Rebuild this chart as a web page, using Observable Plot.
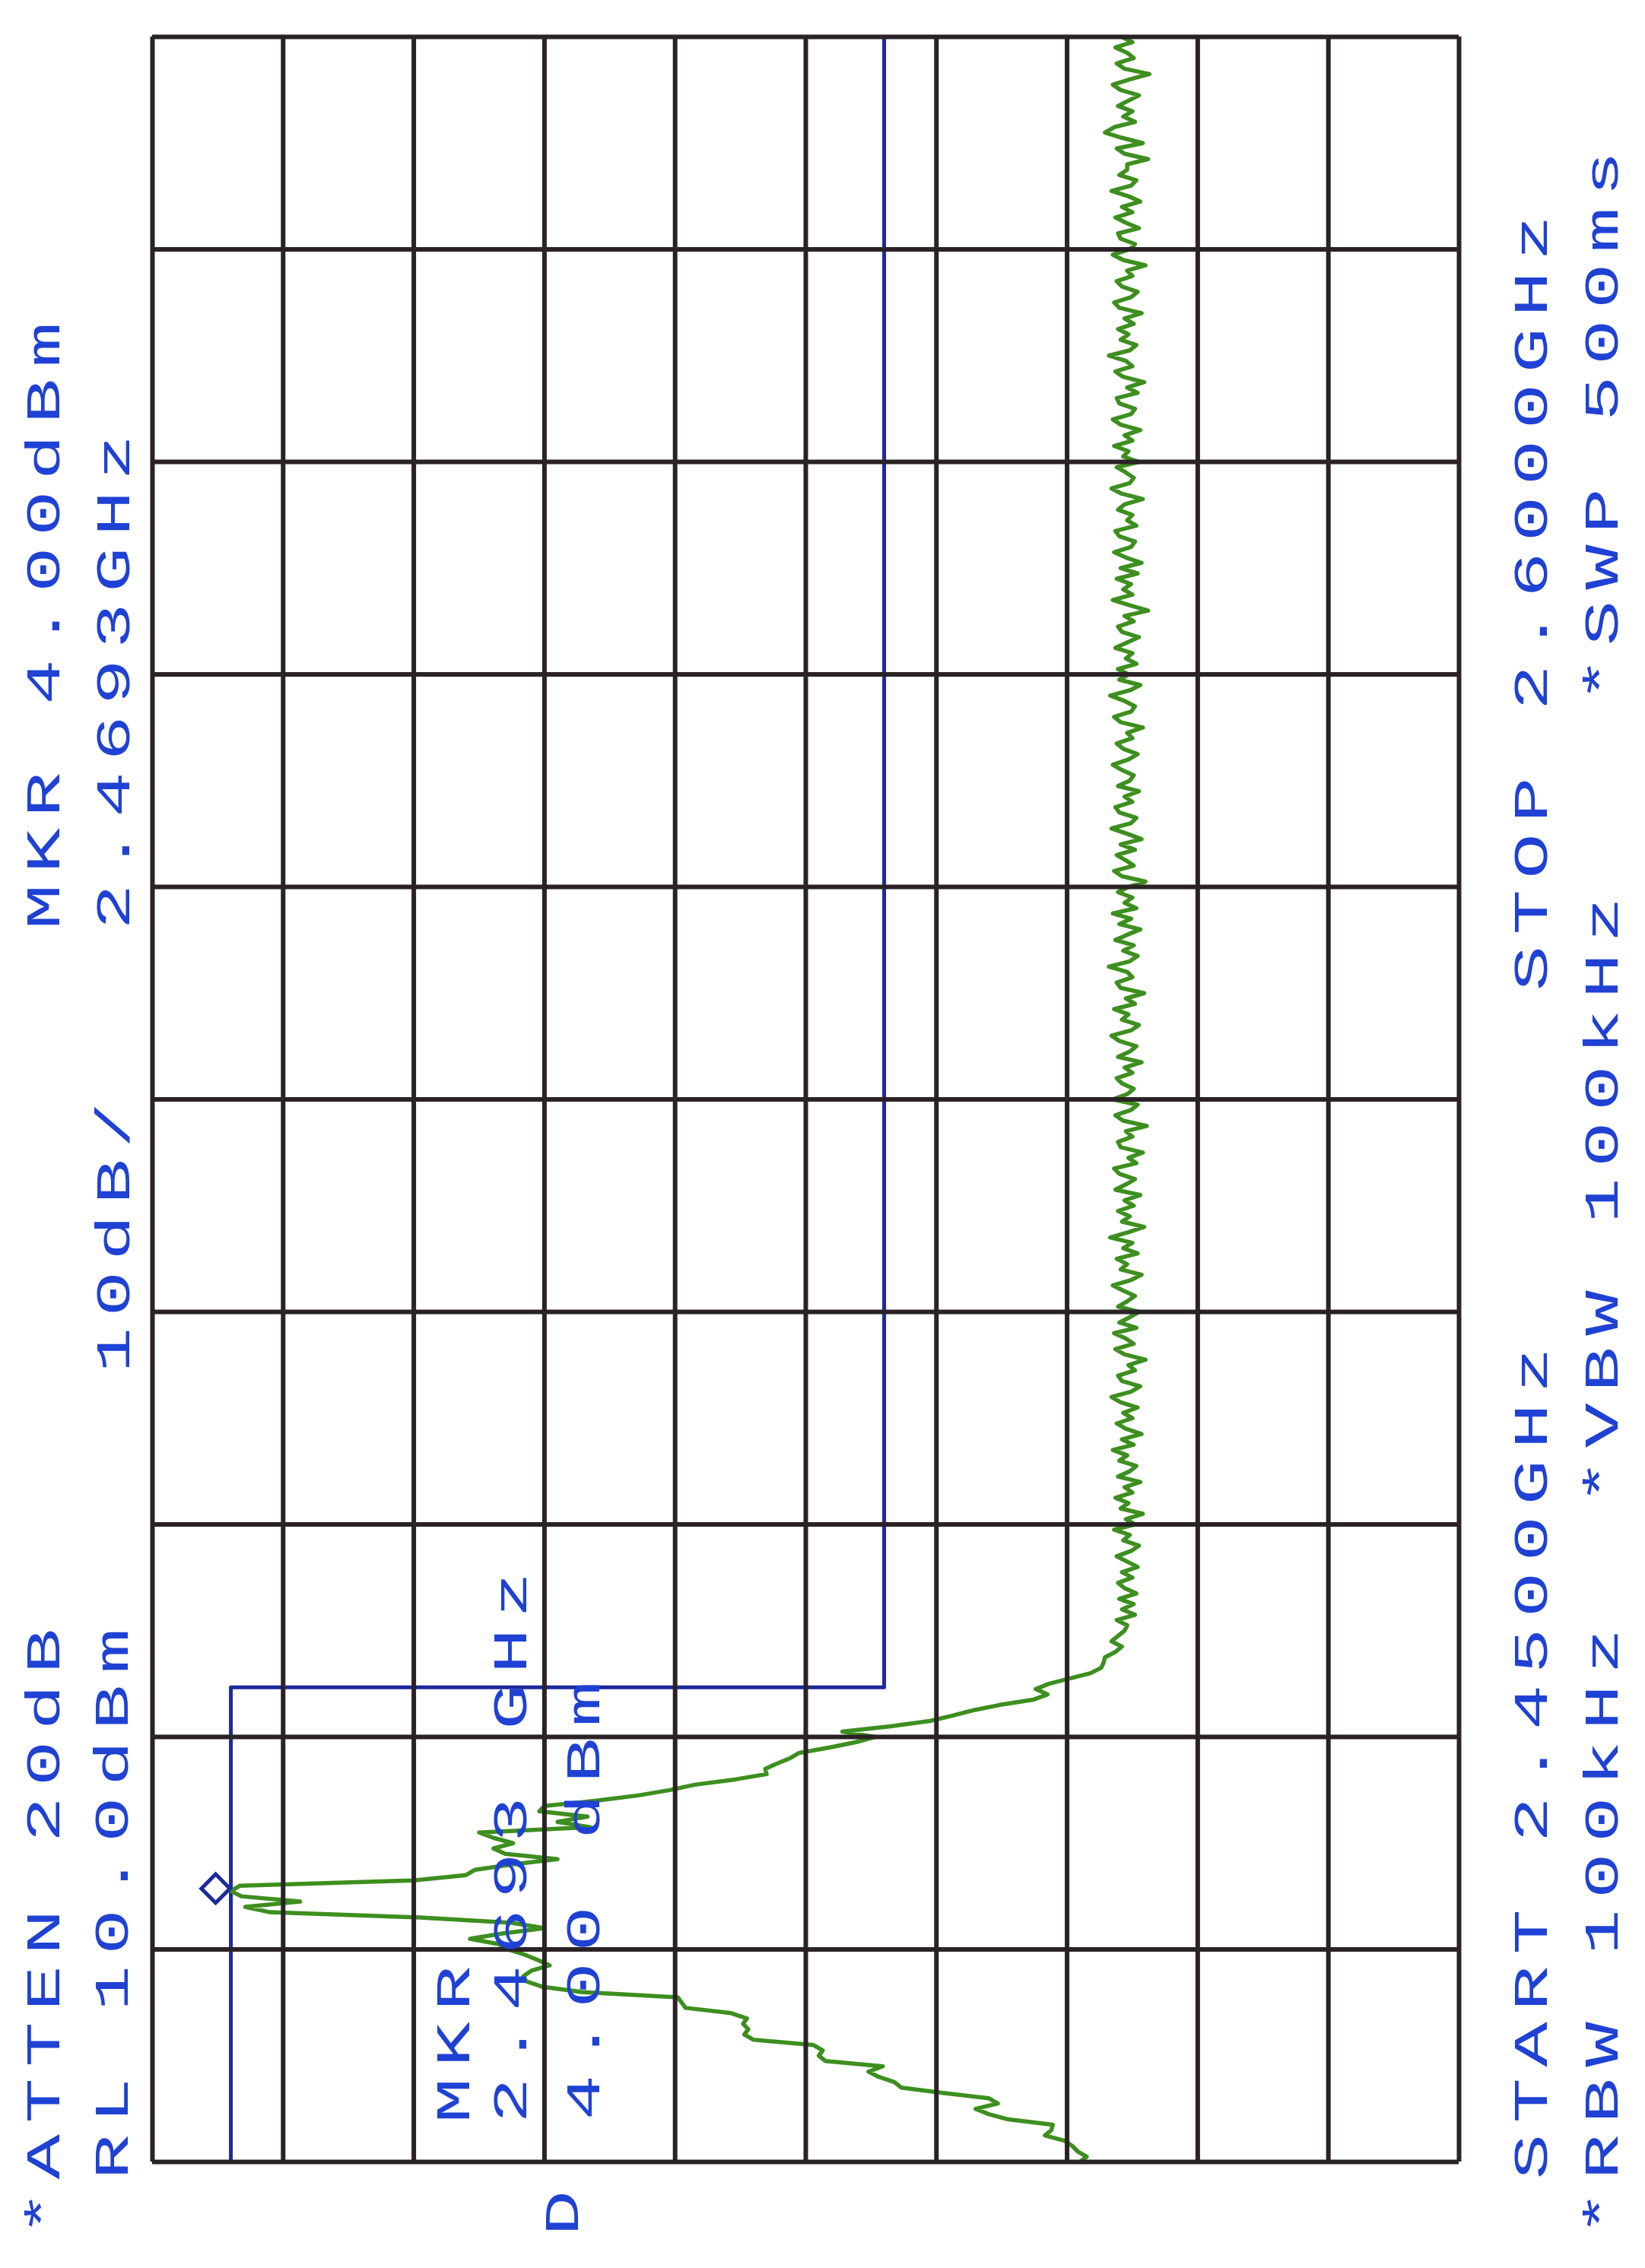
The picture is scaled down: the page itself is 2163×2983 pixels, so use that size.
<!DOCTYPE html>
<html>
<head>
<meta charset="utf-8">
<script src="https://cdn.jsdelivr.net/npm/d3@7"></script>
<script src="https://cdn.jsdelivr.net/npm/@observablehq/plot@0.6"></script>
<style>
  html, body { margin: 0; padding: 0; background: #ffffff; }
  #chart svg text { letter-spacing: 9px; }
</style>
</head>
<body>
<div id="chart"></div>
<script>
// ---------------- DATA ----------------
const startGHz = 2.45;
const stopGHz = 2.60;
const sweepPoints = 401;

// grid divisions (10 dB/div, 15 MHz/div)
const ampGridDbm = [10, 0, -10, -20, -30, -40, -50, -60, -70, -80, -90];
const freqGridGHz = [2.45, 2.465, 2.48, 2.495, 2.51, 2.525, 2.54, 2.555, 2.57, 2.585, 2.60];

// trace points 0..104 : lower skirt, carrier, upper skirt (dBm)
const signalDbm = [
  -61.0, -61.5, -60.8, -60.4, -59.8, -58.3, -58.8, -58.9, -55.5, -54.0,
  -53.0, -54.7, -54.0, -50.5, -47.3, -46.8, -45.6, -44.8, -45.9, -41.5,
  -41.0, -41.3, -40.6, -36.0, -35.3, -35.6, -35.2, -35.5, -34.3, -30.8,
  -30.5, -30.2, -22.8, -19.8, -18.6, -18.4, -19.0, -20.4, -19.5, -18.5,
  -17.2, -16.5, -14.3, -16.8, -20.0, -17.5, -10.5, 1.0, 2.9, -1.3,
  3.2, 4.0, 3.3, -10.0, -14.0, -14.7, -17.5, -21.0, -17.0, -16.1,
  -17.6, -16.1, -15.0, -23.5, -21.0, -23.3, -19.6, -20.0, -24.0, -27.2,
  -29.6, -31.5, -34.6, -37.0, -36.9, -37.8, -38.8, -39.5, -41.8, -43.8,
  -45.3, -42.8, -46.5, -49.5, -51.2, -52.8, -54.8, -57.4, -58.5, -57.6,
  -58.6, -60.2, -61.8, -62.6, -62.8, -62.9, -63.7, -64.2, -63.4, -63.9,
  -64.4, -64.6, -63.8, -65.2, -64.2
];

// trace points 105..400 : noise floor (dBm)
const noiseDbm = [
  -65.1, -64.0, -65.3, -64.4, -63.9, -65.0, -64.2, -65.4, -64.6, -63.8, -64.9, -65.5, -64.3, -64.8, -63.6, -65.2, -64.5, -65.8, -64.1, -64.7,
  -63.7, -65.0, -64.4, -65.6, -63.9, -64.8, -65.3, -64.0, -64.6, -63.5, -65.1, -64.2, -65.7, -64.5, -63.8, -65.0, -64.3, -65.4, -64.1, -63.4,
  -64.9, -65.6, -64.2, -63.9, -65.2, -64.7, -66.0, -64.4, -63.7, -65.1, -64.5, -63.6, -65.3, -64.0, -64.8, -65.5, -63.9, -64.6, -65.2, -64.3,
  -63.5, -64.9, -65.7, -64.1, -64.6, -63.8, -65.4, -64.3, -65.0, -63.3, -64.7, -65.9, -64.2, -64.8, -63.9, -65.1, -64.4, -65.6, -63.7, -64.5,
  -65.2, -64.0, -63.6, -65.3, -64.7, -65.8, -64.1, -63.9, -65.0, -64.5, -66.1, -64.3, -63.7, -64.9, -65.4, -63.5, -64.6, -65.1, -64.2, -63.8,
  -65.0, -64.4, -65.7, -63.9, -64.8, -65.3, -64.0, -63.4, -64.9, -65.5, -64.2, -64.7, -63.6, -65.2, -64.5, -65.9, -64.1, -63.8, -65.0, -64.6,
  -63.2, -64.8, -65.4, -64.3, -65.1, -63.7, -64.6, -65.6, -64.0, -64.9, -63.5, -65.3, -64.4, -65.0, -63.9, -64.7, -66.0, -64.2, -63.6, -65.1,
  -64.5, -63.8, -65.2, -64.1, -65.7, -64.6, -63.4, -64.9, -65.3, -64.0, -63.7, -65.0, -64.4, -65.5, -63.9, -64.8, -65.1, -64.2, -63.5, -64.7,
  -65.4, -64.3, -63.8, -65.0, -64.6, -65.8, -64.1, -63.6, -64.9, -65.2, -64.4, -63.3, -64.8, -65.6, -64.0, -64.7, -63.9, -65.3, -64.5, -65.0,
  -63.7, -64.6, -65.5, -64.2, -63.9, -65.1, -64.4, -66.2, -64.8, -63.5, -65.0, -64.3, -64.9, -63.8, -65.4, -64.1, -65.7, -64.5, -63.6, -64.9,
  -65.2, -64.0, -63.7, -65.3, -64.6, -65.0, -63.9, -64.4, -65.8, -64.2, -63.4, -64.8, -65.1, -64.5, -63.8, -65.5, -64.3, -64.7, -63.6, -65.0,
  -64.4, -65.6, -64.1, -63.5, -64.9, -65.2, -64.0, -63.8, -65.4, -64.6, -65.9, -64.3, -63.7, -65.0, -64.5, -63.2, -64.8, -65.3, -64.1, -64.7,
  -63.9, -65.1, -64.4, -65.7, -64.0, -63.6, -64.9, -65.4, -64.2, -63.8, -65.0, -64.6, -66.0, -64.3, -63.5, -64.8, -65.2, -64.1, -63.9, -65.5,
  -64.5, -63.7, -65.0, -64.2, -65.6, -64.7, -63.4, -64.9, -65.3, -64.0, -64.6, -64.6, -66.2, -64.4, -63.8, -65.8, -64.2, -62.9, -63.6, -65.2,
  -64.3, -65.0, -63.9, -64.7, -65.5, -64.1, -63.5, -64.8, -66.3, -64.4, -63.8, -65.1, -64.6, -63.7, -65.0, -64.2
];

// limit / display line
const limitFreqGHz = [2.45, 2.4835, 2.4835, 2.60];
const limitDbm = [4, 4, -46, -46];

// marker
const markerFreqGHz = 2.4693;
const markerDbm = 4.00;

// annotation texts
const annotationTexts = [
  "*ATTEN 20dB", "MKR 4.00dBm",
  "RL 10.0dBm", "10dB/", "2.4693GHz",
  "START 2.4500GHz", "STOP 2.6000GHz",
  "*RBW 100kHz", "*VBW 100kHz", "*SWP 500ms",
  "MKR", "2.4693 GHz", "4.00 dBm", "D"
];

// ---------------- LAYOUT ----------------
const W = 2163, H = 2983;
const M = {left: 200, right: 245, top: 48, bottom: 140};
// [column centre x, start y] in page pixels for each annotation
const textLayout = [
  [58, 2940], [58, 1222],
  [148, 2866], [150, 1805], [150, 1222],
  [2014, 2866], [2014, 1303],
  [2107, 2940], [2107, 1978], [2107, 923],
  [597, 2792], [672, 2792], [768, 2788], [740, 2940]
];

const gridColor = "#2a2226";
const traceColor = "#3d8f1f";
const lineColor = "#1c2a9a";
const textColor = "#1f42d4";

const allDbm = signalDbm.concat(noiseDbm);
const step = (stopGHz - startGHz) / (sweepPoints - 1);
const trace = allDbm.map((a, i) => ({freq: startGHz + i * step, amp: a}));
const limit = limitFreqGHz.map((f, i) => ({freq: f, amp: limitDbm[i]}));

const textMarks = annotationTexts.map((t, i) => Plot.text([t], {
  text: d => d,
  frameAnchor: "top-left",
  dx: textLayout[i][0] - M.left,
  dy: textLayout[i][1] - M.top,
  rotate: -90,
  textAnchor: "start",
  lineAnchor: "middle",
  fill: textColor,
  fontSize: 62,
  fontFamily: "Liberation Mono"
}));

const chart = Plot.plot({
  width: W,
  height: H,
  marginLeft: M.left,
  marginRight: M.right,
  marginTop: M.top,
  marginBottom: M.bottom,
  x: {domain: [10, -90], axis: null},
  y: {domain: [startGHz, stopGHz], axis: null},
  style: {background: "#ffffff", fontFamily: "Liberation Mono"},
  marks: [
    Plot.line(limit, {x: "amp", y: "freq", stroke: lineColor, strokeWidth: 5}),
    Plot.line(trace, {x: "amp", y: "freq", stroke: traceColor, strokeWidth: 5.5}),
    Plot.ruleX(ampGridDbm, {stroke: gridColor, strokeWidth: 6}),
    Plot.ruleY(freqGridGHz, {stroke: gridColor, strokeWidth: 6}),
    Plot.dot([{freq: markerFreqGHz, amp: markerDbm}], {
      x: "amp", y: "freq", symbol: "square", rotate: 45, r: 15,
      dx: -20, stroke: lineColor, strokeWidth: 5, fill: "none"
    }),
    ...textMarks
  ]
});

// widen the glyphs along the reading direction (plotter font is broad)
chart.querySelectorAll("text").forEach(t => {
  const tr = t.getAttribute("transform") || "";
  t.setAttribute("transform", tr + " scale(1.6,1)");
});

document.getElementById("chart").appendChild(chart);
</script>
</body>
</html>
